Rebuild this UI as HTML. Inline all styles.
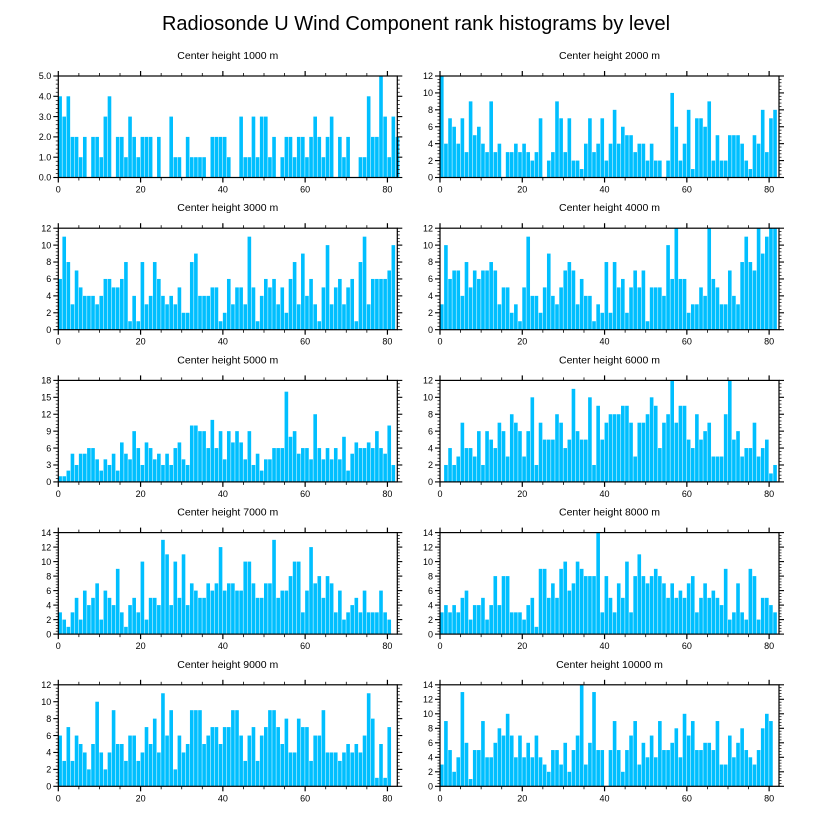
<!DOCTYPE html>
<html><head><meta charset="utf-8">
<style>
html,body{margin:0;padding:0;background:#fff;}
svg{display:block;font-family:"Liberation Sans",Arial,sans-serif;}
</style></head>
<body>
<svg id="chart" width="818" height="824" viewBox="0 0 818 824" xmlns="http://www.w3.org/2000/svg">
<text x="416" y="30" text-anchor="middle" font-size="20">Radiosonde U Wind Component rank histograms by level</text>
</svg>
<script>
const levels = ["1000","2000","3000","4000","5000","6000","7000","8000","9000","10000"];
const yMaxes = [5,12,12,12,18,12,14,14,12,14];
const yStepsMajor = [1,2,2,2,3,2,2,2,2,2];
const xTickLabels = [0,20,40,60,80];
const v1000 = [4,3,4,2,2,1,2,0,2,2,1,3,4,0,2,2,1,3,2,1,2,2,2,0,2,0,0,3,1,1,0,2,1,1,1,1,0,2,2,2,2,1,0,0,3,1,1,3,1,3,3,1,2,0,1,2,2,1,2,2,1,2,3,2,1,2,3,0,2,1,2,0,0,1,1,4,2,2,5,3,1,3,2];
const v2000 = [12,4,7,6,4,7,3,9,5,6,4,3,9,3,4,0,3,3,4,3,4,3,2,3,7,0,2,3,9,7,3,7,2,2,1,4,7,3,4,7,2,4,8,4,6,5,5,3,4,4,2,4,2,2,0,2,10,6,2,4,8,1,7,7,6,9,2,5,2,2,5,5,5,4,2,1,5,4,8,3,7,8];
const v3000 = [6,11,8,3,7,5,4,4,4,3,4,6,6,5,5,6,8,1,4,1,8,3,4,8,6,4,3,4,3,5,2,2,8,9,4,4,4,5,5,1,2,6,3,5,5,3,11,5,1,4,6,5,6,3,5,2,6,8,3,9,4,6,3,1,5,10,3,5,6,3,5,6,1,8,11,3,6,6,6,6,7,10];
const v4000 = [3,10,6,7,7,4,8,5,7,6,7,7,8,7,3,5,5,2,3,1,5,11,4,4,2,5,9,4,3,5,7,8,7,3,6,4,4,1,3,2,8,2,8,5,6,2,5,7,5,7,1,5,5,5,4,10,6,12,6,6,2,3,3,5,4,12,6,5,3,3,7,4,3,8,11,8,7,12,9,11,12,12];
const v5000 = [1,1,2,5,3,5,5,6,6,4,2,4,3,5,2,7,5,4,9,6,3,7,6,4,5,3,5,3,6,7,4,3,10,10,9,9,6,11,6,9,4,9,7,9,7,4,9,3,5,2,4,4,6,6,6,16,8,9,5,6,6,4,12,6,4,6,4,6,4,8,2,5,7,6,6,7,6,9,6,5,10,3];
const v6000 = [0,2,4,2,3,7,4,4,3,6,2,6,5,4,7,6,3,8,7,6,3,6,10,2,7,5,5,5,8,7,4,5,11,6,5,5,10,2,9,5,7,8,8,8,9,9,7,3,7,7,8,10,9,4,7,8,12,7,9,9,5,4,8,5,6,7,3,3,3,8,12,5,6,3,4,4,7,3,4,5,1,2];
const v7000 = [3,2,1,3,5,2,6,4,5,7,2,6,5,4,9,3,1,4,5,3,10,2,5,5,4,13,11,4,10,5,11,4,7,6,5,5,7,6,7,12,6,7,7,6,6,10,10,7,5,5,7,7,13,5,6,6,8,10,10,3,6,12,7,8,5,8,7,3,6,2,3,4,5,3,6,3,3,3,6,3,2];
const v8000 = [3,4,3,4,3,5,6,2,4,4,5,2,4,8,4,8,8,3,3,3,2,4,5,1,9,9,5,7,5,9,10,6,7,10,9,8,8,8,14,3,8,5,3,7,5,10,3,8,11,8,7,8,9,8,7,5,7,5,6,5,7,8,3,5,7,5,6,5,4,9,2,3,7,3,2,9,8,2,5,5,4,3];
const v9000 = [6,3,7,3,6,5,4,2,5,10,4,2,4,9,5,5,3,6,6,3,4,7,5,8,4,11,6,9,2,6,4,5,9,9,9,5,6,7,7,5,7,7,9,9,6,3,6,7,3,6,7,9,9,7,5,8,4,4,8,7,7,3,6,6,9,4,4,4,3,4,5,4,5,4,6,11,8,1,5,1,7];
const v10000 = [3,9,5,2,4,13,6,1,5,5,9,4,4,6,8,7,10,7,4,7,4,6,4,7,4,3,2,5,5,3,6,2,5,7,14,3,6,13,5,5,0,5,9,5,2,5,7,9,3,6,4,7,4,9,5,5,6,8,4,10,7,9,5,5,6,6,5,9,3,3,7,4,6,8,5,4,3,5,8,10,9];
const series = [v1000,v2000,v3000,v4000,v5000,v6000,v7000,v8000,v9000,v10000];

const NS = "http://www.w3.org/2000/svg";
const svg = document.getElementById('chart');
function mk(tag, attrs, parent){ const e=document.createElementNS(NS,tag); for(const k in attrs) e.setAttribute(k,attrs[k]); (parent||svg).appendChild(e); return e; }

const XMIN=0, XMAX=82.4, PW=339, PH=101.5;
series.forEach((vals, p) => {
  const col = p % 2, row = Math.floor(p/2);
  const left = col===0 ? 58.3 : 440;
  const top = 76 + row*152.2;
  const bottom = top + PH;
  const ymax = yMaxes[p], step = yStepsMajor[p];
  const xs = v => left + (v - XMIN)/(XMAX - XMIN)*PW;
  const ys = v => bottom - v/ymax*PH;
  const g = mk('g', {});
  
  
  const t = mk('text', {x: left+PW/2, y: top-17, 'text-anchor':'middle', 'font-size':'10.5'}, g);
  
  
  t.textContent = 'Center height ' + levels[p] + ' m';
  vals.forEach((v, i) => {
    if (v <= 0) return;
    const r = mk('rect', {x: xs(i), y: ys(v), width: xs(i+1)-xs(i)-0.5, height: bottom-ys(v), fill:'#00BFFF'}, g);
    
    
  });
  const fr = mk('rect', {x:left, y:top, width:PW, height:PH, fill:'none', stroke:'#000', 'stroke-width':'1.2'}, g);
  
  
  // x ticks
  for (let xv=0; xv<=XMAX; xv+=5) {
    const major = xv % 20 === 0, L = major ? 5 : 3;
    const X = xs(xv);
    mk('line', {x1:X, x2:X, y1:bottom, y2:bottom+L, stroke:'#000','stroke-width':major?1.2:0.8}, g);
    mk('line', {x1:X, x2:X, y1:top, y2:top-L, stroke:'#000','stroke-width':major?1.2:0.8}, g);
  }
  xTickLabels.forEach(xv => {
    const tl = mk('text', {x: xs(xv), y: bottom+15, 'text-anchor':'middle', 'font-size':'9'}, g);
    
    
    tl.textContent = xv;
  });
  // y ticks
  const minor = step/5;
  for (let k=0; k<=Math.round(ymax/minor); k++) {
    const yv = k*minor, Y = ys(yv);
    const major = k % 5 === 0, L = major ? 5 : 2.5;
    mk('line', {x1:left, x2:left-L, y1:Y, y2:Y, stroke:'#000','stroke-width':major?1.1:0.7}, g);
    mk('line', {x1:left+PW, x2:left+PW+L, y1:Y, y2:Y, stroke:'#000','stroke-width':major?1.1:0.7}, g);
  }
  for (let yv=0; yv<=ymax+1e-9; yv+=step) {
    const yl = mk('text', {x: left-7, y: ys(yv)+3.2, 'text-anchor':'end', 'font-size':'9'}, g);
    
    
    yl.textContent = p===0 ? yv.toFixed(1) : yv;
  }
});
</script>
</body></html>
